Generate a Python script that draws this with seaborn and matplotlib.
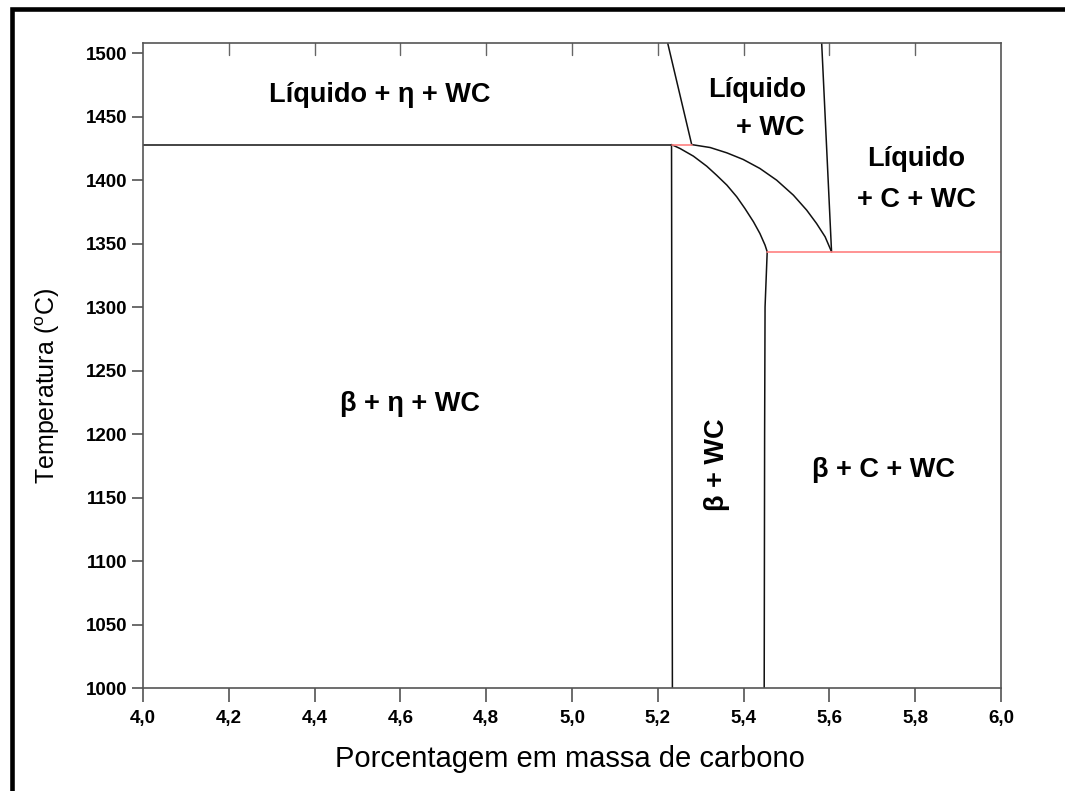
import matplotlib
matplotlib.use("Agg")
import matplotlib.pyplot as plt
from matplotlib.patches import Rectangle
import seaborn as sns
import pandas as pd

# Phase boundaries of the W-C-Co section (carbon wt% vs temperature in °C)
eutectic_upper_T = 1428
eutectic_lower_T = 1343.6

upper_line_x = [4.0, 5.232]
upper_line_T = [eutectic_upper_T, eutectic_upper_T]
upper_red_x = [5.232, 5.279]
upper_red_T = [eutectic_upper_T, eutectic_upper_T]
lower_red_x = [5.455, 6.0]
lower_red_T = [eutectic_lower_T, eutectic_lower_T]

left_liquidus_x = [5.223, 5.279]
left_liquidus_T = [1508, 1428]
right_liquidus_x = [5.582, 5.605]
right_liquidus_T = [1508, 1343.6]

solidus_inner_x = [5.232, 5.252, 5.283, 5.314, 5.337, 5.361, 5.384, 5.403,
                   5.423, 5.438, 5.450, 5.455]
solidus_inner_T = [1428, 1424.9, 1418.9, 1411.0, 1403.9, 1396.1, 1386.9, 1377.7,
                   1367.2, 1358.0, 1348.8, 1343.6]
solidus_outer_x = [5.279, 5.322, 5.361, 5.399, 5.438, 5.477, 5.516, 5.547,
                   5.570, 5.590, 5.605]
solidus_outer_T = [1428, 1425.7, 1421.5, 1416.3, 1409.2, 1400.0, 1388.2, 1376.4,
                   1365.9, 1355.4, 1343.6]

left_vertical_x = [5.232, 5.233, 5.234]
left_vertical_T = [1428, 1200, 1000]
right_vertical_x = [5.455, 5.450, 5.449, 5.448]
right_vertical_T = [1343.6, 1300, 1200, 1000]

x_ticks = [4.0, 4.2, 4.4, 4.6, 4.8, 5.0, 5.2, 5.4, 5.6, 5.8, 6.0]
x_ticklabels = ["4,0", "4,2", "4,4", "4,6", "4,8", "5,0", "5,2", "5,4", "5,6", "5,8", "6,0"]
y_ticks = [1000, 1050, 1100, 1150, 1200, 1250, 1300, 1350, 1400, 1450, 1500]
y_ticklabels = [str(v) for v in y_ticks]

sns.set_theme(style="white")
plt.rcParams["font.family"] = ["Liberation Sans", "DejaVu Sans"]

fig = plt.figure(figsize=(10.65, 7.91), dpi=100)
ax = fig.add_axes([0.1343, 0.1302, 0.8056, 0.8154])

black_segments = [
    (upper_line_x, upper_line_T),
    (left_liquidus_x, left_liquidus_T),
    (right_liquidus_x, right_liquidus_T),
    (solidus_inner_x, solidus_inner_T),
    (solidus_outer_x, solidus_outer_T),
    (left_vertical_x, left_vertical_T),
    (right_vertical_x, right_vertical_T),
]
red_segments = [(upper_red_x, upper_red_T), (lower_red_x, lower_red_T)]

for xs, ts in black_segments:
    sns.lineplot(data=pd.DataFrame({"x": xs, "T": ts}), x="x", y="T", sort=False,
                 color="#111111", linewidth=1.1, ax=ax)
for xs, ts in red_segments:
    sns.lineplot(data=pd.DataFrame({"x": xs, "T": ts}), x="x", y="T", sort=False,
                 color="#ff8080", linewidth=1.2, ax=ax)

ax.set_xlim(4.0, 6.0)
ax.set_ylim(1000, 1508)
ax.set_xticks(x_ticks)
ax.set_xticklabels(x_ticklabels, fontweight="bold", fontsize=13.5, color="black")
ax.set_yticks(y_ticks)
ax.set_yticklabels(y_ticklabels, fontweight="bold", fontsize=13.5, color="black")

ax.tick_params(axis="x", which="major", bottom=True, top=False, direction="out",
               length=10, width=1.1, color="#444444", pad=6)
ax.tick_params(axis="y", which="major", left=True, direction="out",
               length=8, width=1.1, color="#444444", pad=3)
# top ticks point inward
for x in x_ticks[1:-1]:
    ax.plot([x, x], [1508, 1508 - 12 / 1.27], color="#666666", linewidth=1.0,
            clip_on=False)

for side in ["left", "right", "top", "bottom"]:
    ax.spines[side].set_color("#555555")
    ax.spines[side].set_linewidth(1.2)

ax.set_xlabel("Porcentagem em massa de carbono", fontsize=21, color="black")
ax.set_ylabel(r"Temperatura ($\mathregular{^{o}}$C)", fontsize=18, color="black")
ax.xaxis.set_label_coords(0.497, -0.088)
ax.yaxis.set_label_coords(-0.095, 0.468)

label_style = dict(fontsize=19.5, fontweight="bold", ha="center", va="center", color="black")
ax.text(4.552, 1467, "Líquido + η + WC", **label_style)
ax.text(5.431, 1471, "Líquido", **label_style)
ax.text(5.462, 1441, "+ WC", **label_style)
ax.text(5.802, 1417, "Líquido", **label_style)
ax.text(5.802, 1384, "+ C + WC", **label_style)
ax.text(4.622, 1224, "β + η + WC", **label_style)
ax.text(5.338, 1176, "β + WC", rotation=90, **label_style)
ax.text(5.725, 1172, "β + C + WC", **label_style)

# frame around the figure (top and left edges visible)
fig.add_artist(Rectangle((11.5 / 1065, -0.1), 1.2, 1.1 - 9.5 / 791,
                         transform=fig.transFigure, fill=False,
                         edgecolor="black", linewidth=3.3))

fig.savefig("out.png", dpi=100)
